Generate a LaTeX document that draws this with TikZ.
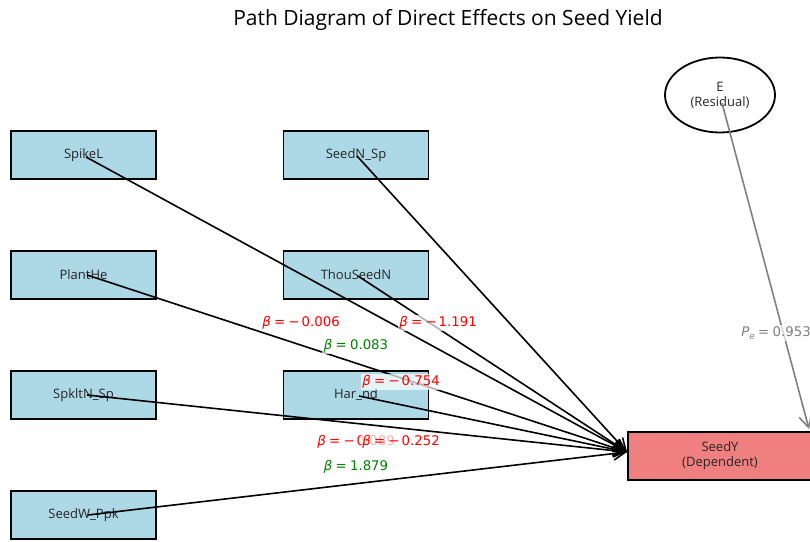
\documentclass[tikz,border=0pt]{standalone}
\usepackage{fontspec}
\setmainfont{Open Sans}
\newfontfamily\labfont{DejaVu Sans}
\usetikzlibrary{arrows.meta,shapes.geometric}
\definecolor{lblue}{HTML}{ADD8E6}
\definecolor{lcoral}{HTML}{F08080}
\definecolor{mpgreen}{HTML}{008000}
\definecolor{mpred}{HTML}{FF0000}
\definecolor{mpgray}{HTML}{808080}
\newcommand{\bet}[1]{\textit{β}\hspace{0.25em}=\hspace{0.25em}#1}
\begin{document}
\begin{tikzpicture}[x=1pt,y=-1pt,
  varbox/.style={draw=black, line width=1.8pt, fill=lblue, minimum width=145pt, minimum height=48pt, inner sep=0pt, text=black!85, font=\fontsize{13}{15}\selectfont},
  depbox/.style={varbox, fill=lcoral, minimum width=184pt, align=center, font=\fontsize{13}{15}\selectfont},
  resid/.style={draw=black, line width=1.8pt, fill=white, ellipse, minimum width=110pt, minimum height=75pt, inner sep=0pt, align=center, text=black!85, font=\fontsize{13}{15}\selectfont},
  effect/.style={line width=1.6pt, draw=black, -{Straight Barb[length=12pt,width=13pt,line width=1.6pt]}},
  resarrow/.style={effect, draw=mpgray},
  coef/.style={font=\labfont\fontsize{13.3}{15}\selectfont, fill=white, fill opacity=0.7, text opacity=1, inner sep=1.5pt},
  titlestyle/.style={font=\fontsize{21}{25}\selectfont, text=black}
]
\useasboundingbox (0,0) rectangle (810,541);
\clip (0,0) rectangle (810,541);
\node[titlestyle] (title) at (448,20) {Path Diagram of Direct Effects on Seed Yield};

\node[varbox] (spikel) at (83.5,155) {SpikeL};
\node[varbox] (seednsp) at (356,155) {SeedN\_Sp};
\node[varbox] (planthe) at (83.5,275) {PlantHe};
\node[varbox] (thouseedn) at (356,275) {ThouSeedN};
\node[varbox] (spkltnsp) at (83.5,395) {SpkltN\_Sp};
\node[varbox] (harnd) at (356,395) {Har\_nd};
\node[varbox] (seedwppk) at (83.5,515) {SeedW\_Ppk};
\node[depbox] (seedy) at (720,456) {SeedY\\(Dependent)};
\node[resid] (e) at (720,95) {E\\(Residual)};

\coordinate (tgt) at (627,452);
\coordinate (etgt) at (809,429);
\coordinate (s1) at (86,157);
\coordinate (s2) at (357,156);
\coordinate (s3) at (87,275);
\coordinate (s4) at (358,276);
\coordinate (s5) at (87,395);
\coordinate (s6) at (359,396);
\coordinate (s7) at (88,515);
\coordinate (es) at (722,103);

\draw[effect] (s1) -- (tgt);
\draw[effect] (s2) -- (tgt);
\draw[effect] (s3) -- (tgt);
\draw[effect] (s4) -- (tgt);
\draw[effect] (s5) -- (tgt);
\draw[effect] (s6) -- (tgt);
\draw[effect] (s7) -- (tgt);
\draw[resarrow] (es) -- (etgt);

\node[coef, text=mpred] (b1) at (301,323) {\bet{−\hspace{0.15em}0.006}};
\node[coef, text=mpred] (b2) at (438,323) {\bet{−\hspace{0.15em}1.191}};
\node[coef, text=mpgreen] (b3) at (356,346) {\bet{0.083}};
\node[coef, text=mpred] (b4) at (401,382) {\bet{−\hspace{0.15em}0.754}};
\node[coef, text=mpred] (b5) at (356,442) {\bet{−\hspace{0.15em}0.089}};
\node[coef, text=mpred] (b6) at (401,442) {\bet{−\hspace{0.15em}0.252}};
\node[coef, text=mpgreen] (b7) at (356,467) {\bet{1.879}};
\node[coef, text=mpgray] (pe) at (776,333) {\textit{P}\raisebox{-0.35ex}{\fontsize{9}{10}\selectfont\textit{e}}\hspace{0.25em}=\hspace{0.25em}0.953};
\end{tikzpicture}
\end{document}
